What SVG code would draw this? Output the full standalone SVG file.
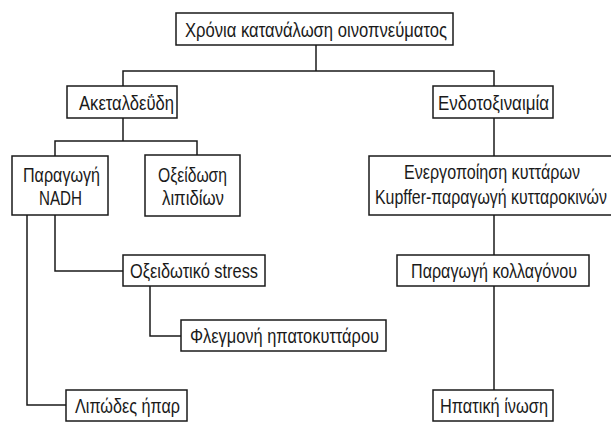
<svg xmlns="http://www.w3.org/2000/svg" width="611" height="427" viewBox="0 0 611 427">
<style>
rect.box{fill:#fff;stroke:#1a1a1a;stroke-width:1.5}
text{font-family:"Liberation Sans","DejaVu Sans",sans-serif;font-size:21px;fill:#1a1a1a;text-anchor:middle}
#connectors path{fill:none;stroke:#1a1a1a;stroke-width:1.5}
</style>
<rect width="611" height="427" fill="#fff"/>
<g id="connectors">
<path d="M316 45 V71"/>
<path d="M123 86 V71 H494 V86"/>
<path d="M123 118 V141"/>
<path d="M55 156 V141 H197 V155"/>
<path d="M27 215 V405 H66"/>
<path d="M55 215 V271 H123"/>
<path d="M150 286 V336 H181"/>
<path d="M494 118 V156"/>
<path d="M494 215 V255"/>
<path d="M494 286 V390"/>
</g>
<g id="n-top"><rect class="box" x="176" y="13" width="277" height="32"/><text x="316" y="36.5" textLength="262" lengthAdjust="spacingAndGlyphs">Χρόνια κατανάλωση οινοπνεύματος</text></g>
<g id="n-acet"><rect class="box" x="67" y="86" width="110" height="32"/><text x="126.5" y="109.5" textLength="95" lengthAdjust="spacingAndGlyphs">Ακεταλδεΰδη</text></g>
<g id="n-endo"><rect class="box" x="433" y="86" width="120" height="32"/><text x="493.5" y="109.5" textLength="111" lengthAdjust="spacingAndGlyphs">Ενδοτοξιναιμία</text></g>
<g id="n-nadh"><rect class="box" x="12" y="156" width="96" height="59"/><text x="61.5" y="182" textLength="77" lengthAdjust="spacingAndGlyphs">Παραγωγή</text><text x="60.5" y="205" textLength="43" lengthAdjust="spacingAndGlyphs">NADH</text></g>
<g id="n-lipid"><rect class="box" x="145" y="155" width="95" height="61"/><text x="192.5" y="182" textLength="69" lengthAdjust="spacingAndGlyphs">Οξείδωση</text><text x="193" y="205" textLength="62" lengthAdjust="spacingAndGlyphs">λιπιδίων</text></g>
<g id="n-kupffer"><rect class="box" x="369" y="156" width="250" height="59"/><text x="492" y="179" textLength="176" lengthAdjust="spacingAndGlyphs">Ενεργοποίηση κυττάρων</text><text x="491" y="204" textLength="232" lengthAdjust="spacingAndGlyphs">Kupffer-παραγωγή κυτταροκινών</text></g>
<g id="n-stress"><rect class="box" x="123" y="255" width="142" height="31"/><text x="194" y="278" textLength="128" lengthAdjust="spacingAndGlyphs">Οξειδωτικό stress</text></g>
<g id="n-coll"><rect class="box" x="397" y="255" width="192" height="31"/><text x="494" y="278" textLength="166" lengthAdjust="spacingAndGlyphs">Παραγωγή κολλαγόνου</text></g>
<g id="n-infl"><rect class="box" x="181" y="320" width="205" height="31"/><text x="284.5" y="343" textLength="189" lengthAdjust="spacingAndGlyphs">Φλεγμονή ηπατοκυττάρου</text></g>
<g id="n-fatty"><rect class="box" x="66" y="390" width="121" height="31"/><text x="127.5" y="413" textLength="105" lengthAdjust="spacingAndGlyphs">Λιπώδες ήπαρ</text></g>
<g id="n-fibro"><rect class="box" x="433" y="390" width="120" height="31"/><text x="494" y="413" textLength="108" lengthAdjust="spacingAndGlyphs">Ηπατική ίνωση</text></g>
</svg>
